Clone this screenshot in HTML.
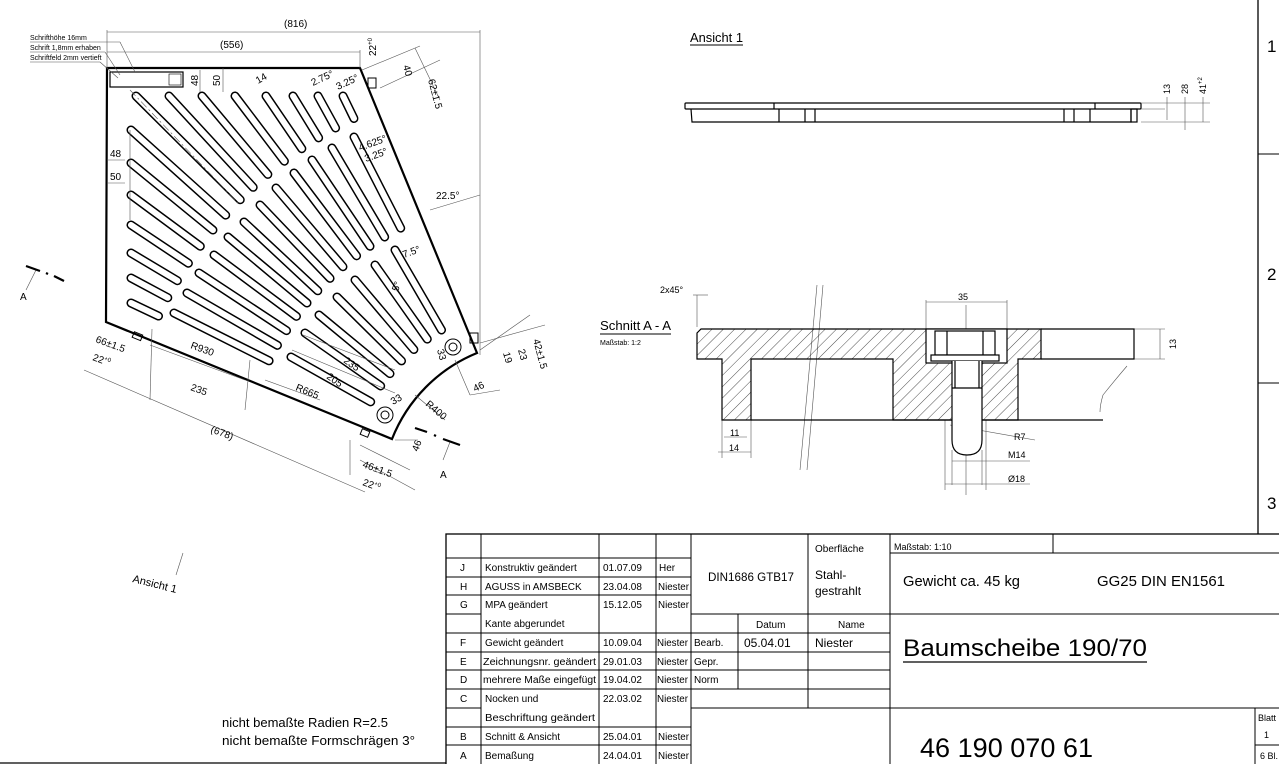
<!DOCTYPE html>
<html><head><meta charset="utf-8">
<style>
html,body{margin:0;padding:0;background:#fff;}
svg{display:block;}
text{font-family:"Liberation Sans Narrow","Liberation Sans",sans-serif;fill:#000;}
</style></head>
<body>
<svg id="s" width="1279" height="764" viewBox="0 0 1279 764" xmlns="http://www.w3.org/2000/svg">
<defs>
<pattern id="h" patternUnits="userSpaceOnUse" width="8" height="8" patternTransform="rotate(45)">
<line x1="0" y1="0" x2="0" y2="8" stroke="#000" stroke-width="0.7"/>
</pattern>
</defs>

<line x1="1258" y1="0" x2="1258" y2="534" stroke="#000" stroke-width="1.3"/>
<line x1="1258" y1="154" x2="1279" y2="154" stroke="#000"/>
<line x1="1258" y1="383" x2="1279" y2="383" stroke="#000"/>
<text x="1267" y="52" font-size="17">1</text>
<text x="1267" y="280" font-size="17">2</text>
<text x="1267" y="509" font-size="17">3</text>

<g id="slots"></g>
<path d="M107,68 L360,68 L477,353 A154 154 0 0 0 392,439 L106,322 Z" fill="none" stroke="#000" stroke-width="2.2"/>
<rect x="110" y="72" width="73" height="15" fill="none" stroke="#000" stroke-width="1.2"/>
<rect x="169" y="74" width="12" height="11" fill="none" stroke="#000" stroke-width="0.6"/>
<g fill="none" stroke="#000" stroke-width="1">
<circle cx="453" cy="347" r="8"/><circle cx="453" cy="347" r="4"/>
<circle cx="385" cy="415" r="8"/><circle cx="385" cy="415" r="4"/>
<rect x="368" y="78" width="8" height="10"/>
<rect x="470" y="333" width="8" height="10"/>
<rect x="133" y="333" width="9" height="6" transform="rotate(22 137 336)"/>
<rect x="361" y="430" width="8" height="6" transform="rotate(22 365 433)"/>
</g>

<g stroke="#555" stroke-width="0.6" fill="none">
<line x1="107" y1="32" x2="480" y2="32"/>
<line x1="107" y1="52" x2="360" y2="52"/>
<line x1="107" y1="30" x2="107" y2="68"/>
<line x1="360" y1="50" x2="360" y2="68"/>
<line x1="480" y1="30" x2="480" y2="355"/>
<line x1="30" y1="42" x2="120" y2="42"/><line x1="120" y1="42" x2="135" y2="72"/>
<line x1="30" y1="52" x2="105" y2="52"/><line x1="105" y1="52" x2="120" y2="75"/>
<line x1="30" y1="62" x2="100" y2="62"/><line x1="100" y1="62" x2="118" y2="78"/>
<line x1="130" y1="90" x2="240" y2="205" stroke-dasharray="8 3 2 3"/>
<line x1="200" y1="70" x2="200" y2="92"/><line x1="223" y1="68" x2="223" y2="92"/>
<line x1="107" y1="160" x2="125" y2="160"/><line x1="107" y1="183" x2="125" y2="183"/>
<line x1="130" y1="130" x2="130" y2="220"/>
<line x1="362" y1="70" x2="420" y2="46"/><line x1="380" y1="88" x2="440" y2="60"/>
<line x1="415" y1="48" x2="440" y2="100"/>
<line x1="430" y1="210" x2="480" y2="195"/>
<line x1="84" y1="370" x2="365" y2="492"/>
<line x1="150" y1="345" x2="245" y2="380"/>
<line x1="152" y1="329" x2="150" y2="400"/>
<line x1="250" y1="360" x2="245" y2="410"/>
<line x1="265" y1="380" x2="320" y2="400"/>
<line x1="292" y1="350" x2="395" y2="393"/>
<line x1="303" y1="335" x2="395" y2="370"/>
<line x1="415" y1="395" x2="445" y2="420"/>
<line x1="350" y1="440" x2="350" y2="475"/><line x1="360" y1="445" x2="410" y2="470"/>
<line x1="360" y1="460" x2="415" y2="490"/>
<line x1="480" y1="350" x2="530" y2="315"/><line x1="480" y1="343" x2="545" y2="325"/>
<line x1="455" y1="360" x2="470" y2="395"/><line x1="470" y1="395" x2="500" y2="390"/>
<line x1="395" y1="440" x2="418" y2="440"/>
<line x1="26" y1="290" x2="36" y2="270"/><line x1="443" y1="460" x2="450" y2="442"/>
</g>
<g stroke="#000" stroke-width="2.2">
<line x1="26" y1="266" x2="40" y2="271"/><line x1="46" y1="273" x2="48" y2="274"/><line x1="54" y1="276" x2="64" y2="281"/>
<line x1="415" y1="428" x2="427" y2="432"/><line x1="434" y1="435" x2="436" y2="436"/><line x1="443" y1="439" x2="460" y2="445"/>
</g>
<g font-size="10">
<text x="284" y="27">(816)</text>
<text x="220" y="48">(556)</text>
<text x="30" y="40" font-size="7">Schrifthöhe 16mm</text>
<text x="30" y="50" font-size="7">Schrift 1,8mm erhaben</text>
<text x="30" y="60" font-size="7">Schriftfeld 2mm vertieft</text>
<text transform="translate(198,86) rotate(-90)">48</text>
<text transform="translate(220,86) rotate(-90)">50</text>
<text transform="translate(258,84) rotate(-30)">14</text>
<text transform="translate(313,86) rotate(-25)">2.75°</text>
<text transform="translate(338,90) rotate(-25)">3.25°</text>
<text transform="translate(376,56) rotate(-90)">22<tspan font-size="6" dy="-4">+0</tspan></text>
<text transform="translate(403,66) rotate(75)">40</text>
<text transform="translate(428,80) rotate(75)">62±1.5</text>
<text x="110" y="157">48</text>
<text x="110" y="180">50</text>
<text transform="translate(360,151) rotate(-20)">4.625°</text>
<text transform="translate(366,162) rotate(-20)">3.25°</text>
<text x="436" y="199">22.5°</text>
<text transform="translate(404,258) rotate(-20)">7.5°</text>
<text transform="translate(398,292) rotate(-70)">5°</text>
<text transform="translate(190,348) rotate(20)">R930</text>
<text transform="translate(190,390) rotate(20)">235</text>
<text transform="translate(295,390) rotate(22)">R665</text>
<text transform="translate(343,362) rotate(35)">235</text>
<text transform="translate(326,378) rotate(35)">205</text>
<text transform="translate(425,405) rotate(40)">R400</text>
<text transform="translate(393,405) rotate(-30)">33</text>
<text transform="translate(437,350) rotate(75)">33</text>
<text transform="translate(210,432) rotate(20)">(678)</text>
<text transform="translate(95,342) rotate(20)">66±1.5</text>
<text transform="translate(92,360) rotate(20)">22<tspan font-size="6" dy="-4">+0</tspan></text>
<text transform="translate(362,467) rotate(20)">46±1.5</text>
<text transform="translate(362,485) rotate(20)">22<tspan font-size="6" dy="-4">+0</tspan></text>
<text transform="translate(475,392) rotate(-25)">46</text>
<text transform="translate(418,452) rotate(-70)">46</text>
<text transform="translate(533,340) rotate(75)">42±1.5</text>
<text transform="translate(518,350) rotate(75)">23</text>
<text transform="translate(503,353) rotate(75)">19</text>
<text x="20" y="300">A</text>
<text x="440" y="478">A</text>
</g>

<text x="690" y="42" font-size="13" textLength="53" lengthAdjust="spacingAndGlyphs">Ansicht 1</text>
<line x1="690" y1="45" x2="743" y2="45" stroke="#000"/>
<g fill="none" stroke="#000" stroke-width="1.2">
<rect x="685" y="103" width="456" height="6" rx="1"/>
<line x1="774" y1="103" x2="774" y2="109"/><line x1="1095" y1="103" x2="1095" y2="109"/>
<polyline points="691,109 692,122 1131,122 1131,109"/>
<line x1="779" y1="109" x2="779" y2="122"/><line x1="805" y1="109" x2="805" y2="122"/><line x1="815" y1="109" x2="815" y2="122"/>
<line x1="1064" y1="109" x2="1064" y2="122"/><line x1="1074" y1="109" x2="1074" y2="122"/><line x1="1090" y1="109" x2="1090" y2="122"/>
<rect x="1131" y="109" width="6" height="13"/>
</g>
<g stroke="#555" stroke-width="0.6">
<line x1="1141" y1="103" x2="1210" y2="103"/><line x1="1141" y1="109" x2="1165" y2="109"/><line x1="1141" y1="122" x2="1210" y2="122"/>
<line x1="1167" y1="97" x2="1167" y2="120"/><line x1="1185" y1="97" x2="1185" y2="130"/><line x1="1203" y1="97" x2="1203" y2="122"/>
</g>
<g font-size="9">
<text transform="translate(1170,94) rotate(-90)">13</text>
<text transform="translate(1188,94) rotate(-90)">28</text>
<text transform="translate(1206,94) rotate(-90)">41<tspan font-size="6" dy="-4">+2</tspan></text>
</g>

<text x="600" y="330" font-size="13" textLength="71" lengthAdjust="spacingAndGlyphs">Schnitt A - A</text>
<line x1="600" y1="334" x2="671" y2="334" stroke="#000"/>
<text x="600" y="345" font-size="7">Maßstab: 1:2</text>
<text x="660" y="293" font-size="9">2x45°</text>
<g stroke="#555" stroke-width="0.6" fill="none">
<line x1="697" y1="295" x2="697" y2="327"/><line x1="693" y1="295" x2="708" y2="295"/>
<line x1="926" y1="302" x2="1007" y2="302"/><line x1="926" y1="300" x2="926" y2="329"/><line x1="1007" y1="300" x2="1007" y2="329"/>
<line x1="966" y1="305" x2="966" y2="495"/>
<line x1="1134" y1="329" x2="1165" y2="329"/><line x1="1105" y1="359" x2="1165" y2="359"/><line x1="1160" y1="329" x2="1160" y2="359"/>
<line x1="722" y1="420" x2="722" y2="458"/><line x1="751" y1="420" x2="751" y2="458"/><line x1="724" y1="437" x2="747" y2="437"/>
<line x1="718" y1="452" x2="751" y2="452"/>
<line x1="950" y1="425" x2="1035" y2="440"/>
<line x1="952" y1="450" x2="952" y2="485"/><line x1="982" y1="450" x2="982" y2="485"/>
<line x1="952" y1="461" x2="1030" y2="461"/><line x1="945" y1="484" x2="1030" y2="484"/>
<line x1="945" y1="420" x2="945" y2="490"/><line x1="986" y1="420" x2="986" y2="490"/>
<line x1="817" y1="285" x2="800" y2="470"/><line x1="823" y1="285" x2="807" y2="470"/>
<path d="M1127,366 Q1115,380 1103,395 Q1100,405 1100,412"/>
</g>
<g stroke="#000" stroke-width="1.2">
<path d="M697,333 L701,329 L1041,329 L1041,359 L1018,359 L1018,420 L893,420 L893,359 L751,359 L751,420 L722,420 L722,359 L697,359 Z" fill="url(#h)"/>
<rect x="926" y="329" width="81" height="34" fill="#fff"/>
<polyline points="1041,329 1134,329 1134,359 1041,359" fill="none"/>
<line x1="751" y1="420" x2="1103" y2="420"/>
<rect x="935" y="331" width="60" height="24" fill="#fff"/>
<line x1="947" y1="331" x2="947" y2="355"/><line x1="983" y1="331" x2="983" y2="355"/>
<rect x="931" y="355" width="68" height="6" fill="#fff"/>
<path d="M952,361 L952,440 Q952,455 967,455 Q982,455 982,440 L982,361" fill="#fff"/>
<line x1="955" y1="361" x2="955" y2="388"/><line x1="979" y1="361" x2="979" y2="388"/>
<line x1="952" y1="388" x2="982" y2="388"/>
</g>
<g font-size="9">
<text x="958" y="300">35</text>
<text transform="translate(1176,349) rotate(-90)">13</text>
<text x="730" y="436">11</text>
<text x="729" y="451">14</text>
<text x="1014" y="440">R7</text>
<text x="1008" y="458">M14</text>
<text x="1008" y="482">Ø18</text>
</g>

<text transform="translate(132,582) rotate(14)" font-size="11">Ansicht 1</text>
<line x1="176" y1="575" x2="183" y2="553" stroke="#555" stroke-width="0.6"/>
<text x="222" y="727" font-size="13" textLength="166" lengthAdjust="spacingAndGlyphs">nicht bemaßte Radien R=2.5</text>
<text x="222" y="745" font-size="13" textLength="193" lengthAdjust="spacingAndGlyphs">nicht bemaßte Formschrägen 3°</text>
<line x1="0" y1="763" x2="446" y2="763" stroke="#000" stroke-width="1.3"/>

<g stroke="#000" stroke-width="1" fill="none">
<rect x="446" y="534" width="840" height="232" stroke-width="1.3"/>
<line x1="481" y1="534" x2="481" y2="764"/>
<line x1="599" y1="534" x2="599" y2="764"/>
<line x1="656" y1="534" x2="656" y2="764"/>
<line x1="691" y1="534" x2="691" y2="764"/>
<line x1="890" y1="534" x2="890" y2="764"/>
<line x1="808" y1="534" x2="808" y2="708"/>
<line x1="738" y1="614" x2="738" y2="689"/>
<line x1="1053" y1="534" x2="1053" y2="553"/>
<line x1="890" y1="553" x2="1279" y2="553"/>
<line x1="691" y1="614" x2="1279" y2="614"/>
<line x1="691" y1="633" x2="890" y2="633"/>
<line x1="691" y1="652" x2="890" y2="652"/>
<line x1="691" y1="670" x2="890" y2="670"/>
<line x1="691" y1="689" x2="890" y2="689"/>
<line x1="691" y1="708" x2="1279" y2="708"/>
<line x1="1255" y1="708" x2="1255" y2="764"/>
<line x1="1255" y1="745" x2="1279" y2="745"/>
<line x1="446" y1="558" x2="691" y2="558"/>
<line x1="446" y1="577" x2="691" y2="577"/>
<line x1="446" y1="595" x2="691" y2="595"/>
<line x1="446" y1="614" x2="481" y2="614"/>
<line x1="446" y1="633" x2="691" y2="633"/>
<line x1="446" y1="652" x2="691" y2="652"/>
<line x1="446" y1="670" x2="691" y2="670"/>
<line x1="446" y1="689" x2="691" y2="689"/>
<line x1="446" y1="708" x2="481" y2="708"/>
<line x1="446" y1="727" x2="691" y2="727"/>
<line x1="446" y1="745" x2="691" y2="745"/>
</g>
<g font-size="10">
<text x="460" y="571">J</text><text x="485" y="571">Konstruktiv geändert</text><text x="603" y="571">01.07.09</text><text x="659" y="571">Her</text>
<text x="460" y="590">H</text><text x="485" y="590">AGUSS in AMSBECK</text><text x="603" y="590">23.04.08</text><text x="658" y="590" textLength="31" lengthAdjust="spacingAndGlyphs">Niester</text>
<text x="460" y="608">G</text><text x="485" y="608">MPA geändert</text><text x="603" y="608">15.12.05</text><text x="658" y="608" textLength="31" lengthAdjust="spacingAndGlyphs">Niester</text>
<text x="485" y="627">Kante abgerundet</text>
<text x="460" y="646">F</text><text x="485" y="646">Gewicht geändert</text><text x="603" y="646">10.09.04</text><text x="657" y="646" textLength="31" lengthAdjust="spacingAndGlyphs">Niester</text>
<text x="460" y="665">E</text><text x="483" y="665" textLength="113" lengthAdjust="spacingAndGlyphs">Zeichnungsnr. geändert</text><text x="603" y="665">29.01.03</text><text x="657" y="665" textLength="31" lengthAdjust="spacingAndGlyphs">Niester</text>
<text x="460" y="683">D</text><text x="483" y="683" textLength="113" lengthAdjust="spacingAndGlyphs">mehrere Maße eingefügt</text><text x="603" y="683">19.04.02</text><text x="657" y="683" textLength="31" lengthAdjust="spacingAndGlyphs">Niester</text>
<text x="460" y="702">C</text><text x="485" y="702">Nocken und</text><text x="603" y="702">22.03.02</text><text x="657" y="702" textLength="31" lengthAdjust="spacingAndGlyphs">Niester</text>
<text x="485" y="721" textLength="110" lengthAdjust="spacingAndGlyphs">Beschriftung geändert</text>
<text x="460" y="740">B</text><text x="485" y="740">Schnitt &amp; Ansicht</text><text x="603" y="740">25.04.01</text><text x="658" y="740" textLength="31" lengthAdjust="spacingAndGlyphs">Niester</text>
<text x="460" y="759">A</text><text x="485" y="759">Bemaßung</text><text x="603" y="759">24.04.01</text><text x="658" y="759" textLength="31" lengthAdjust="spacingAndGlyphs">Niester</text>
<text x="708" y="581" font-size="12" textLength="86" lengthAdjust="spacingAndGlyphs">DIN1686 GTB17</text>
<text x="815" y="552">Oberfläche</text>
<text x="815" y="579" font-size="12">Stahl-</text>
<text x="815" y="595" font-size="12">gestrahlt</text>
<text x="756" y="628">Datum</text>
<text x="838" y="628">Name</text>
<text x="694" y="646">Bearb.</text><text x="744" y="647" font-size="12">05.04.01</text><text x="815" y="647" font-size="12">Niester</text>
<text x="694" y="665">Gepr.</text>
<text x="694" y="683">Norm</text>
<text x="894" y="550" font-size="9">Maßstab:  1:10</text>
<text x="903" y="586" font-size="15" textLength="117" lengthAdjust="spacingAndGlyphs">Gewicht ca. 45 kg</text>
<text x="1097" y="586" font-size="15" textLength="128" lengthAdjust="spacingAndGlyphs">GG25 DIN EN1561</text>
<text x="903" y="656" font-size="24" textLength="244" lengthAdjust="spacingAndGlyphs">Baumscheibe 190/70</text>
<text x="920" y="757" font-size="27" textLength="173" lengthAdjust="spacingAndGlyphs">46 190 070 61</text>
<text x="1258" y="721" font-size="9">Blatt</text>
<text x="1264" y="738" font-size="9">1</text>
<text x="1260" y="759" font-size="9">6 Bl.</text>
</g>
<line x1="903" y1="662" x2="1147" y2="662" stroke="#000" stroke-width="1.2"/>

<script>
(function(){
var C=[538,496],g=document.getElementById('slots'),ns='http://www.w3.org/2000/svg';
function slot(px,py,rEnd){
 var dx=px-C[0],dy=py-C[1],r=Math.sqrt(dx*dx+dy*dy),k=rEnd/r;
 var ex=C[0]+dx*k,ey=C[1]+dy*k;
 [['#000',9],['#fff',6]].forEach(function(s){
  var l=document.createElementNS(ns,'line');
  l.setAttribute('x1',px);l.setAttribute('y1',py);l.setAttribute('x2',ex);l.setAttribute('y2',ey);
  l.setAttribute('stroke',s[0]);l.setAttribute('stroke-width',s[1]);l.setAttribute('stroke-linecap','round');
  g.appendChild(l);});
}
[136,169,202,235,266,293,318,343].forEach(function(x){slot(x,96,420);});
[130,163,195,225,253,278,303].forEach(function(y){slot(131,y,420);});
[[174,313],[187,293],[199,273],[214,255],[228,237],[244,222],[260,205],[276,188],[294,173],[312,160],[332,148],[354,137]].forEach(function(p){slot(p[0],p[1],301);});
[[291,357],[305,333],[319,315],[337,297],[355,280],[375,265],[395,250]].forEach(function(p){slot(p[0],p[1],192);});
})();
</script>
</svg>
</body></html>
